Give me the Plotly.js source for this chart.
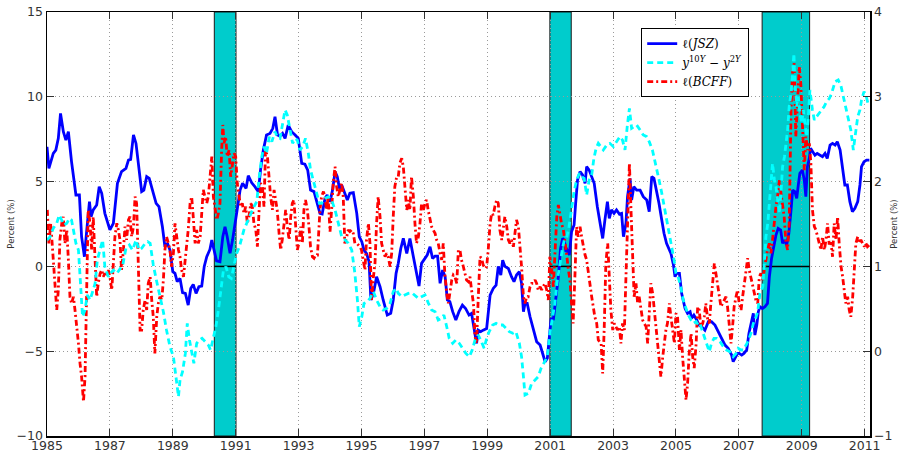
<!DOCTYPE html>
<html><head><meta charset="utf-8">
<script src="https://cdn.plot.ly/plotly-3.0.1.min.js"></script>
<style>html,body{margin:0;padding:0;background:#fff}#chart{width:899px;height:451px}</style>
</head><body><div id="chart"></div>
<script>
const xTickYears = [1985,1987,1989,1991,1993,1995,1997,1999,2001,2003,2005,2007,2009,2011];
const leftTicks = [-10,-5,0,5,10,15];
const rightTicks = [-1,0,1,2,3,4];
const recessionStart = [1990.32, 2000.99, 2007.74];
const recessionEnd = [1991.01, 2001.67, 2009.25];

const jszYears = [
1985.00,1985.06,1985.20,1985.28,1985.36,1985.43,1985.52,1985.60,1985.68,1985.78,
1985.92,1986.03,1986.10,1986.19,1986.26,1986.35,1986.40,1986.47,1986.58,1986.66,
1986.74,1986.84,1987.00,1987.11,1987.24,1987.37,1987.51,1987.59,1987.66,1987.75,
1987.83,1987.93,1988.01,1988.08,1988.17,1988.25,1988.36,1988.47,1988.56,1988.67,
1988.75,1988.83,1988.91,1989.00,1989.07,1989.14,1989.23,1989.31,1989.40,1989.49,
1989.57,1989.65,1989.74,1989.83,1989.92,1990.00,1990.08,1990.18,1990.24,1990.31,
1990.39,1990.50,1990.59,1990.66,1990.73,1990.82,1990.90,1991.03,1991.14,1991.22,
1991.33,1991.40,1991.51,1991.61,1991.72,1991.79,1991.88,1991.98,1992.09,1992.18,
1992.25,1992.33,1992.41,1992.49,1992.57,1992.67,1992.78,1992.89,1992.99,1993.10,
1993.20,1993.29,1993.38,1993.49,1993.57,1993.66,
1993.68,1993.75,1993.84,1993.91,1994.00,1994.08,1994.16,1994.23,1994.30,1994.37,
1994.45,1994.55,1994.63,1994.74,1994.85,1994.93,1995.01,1995.08,1995.16,1995.24,
1995.30,1995.38,1995.48,1995.59,1995.69,1995.82,1995.93,1996.01,1996.10,1996.17,
1996.25,1996.33,1996.44,1996.54,1996.65,1996.73,1996.83,1996.91,1997.02,1997.09,
1997.18,1997.26,1997.34,1997.42,1997.50,1997.58,1997.66,1997.73,1997.81,1997.90,
1998.00,1998.10,1998.21,1998.31,1998.42,1998.50,1998.58,1998.66,1998.71,1998.79,
1998.87,1998.98,1999.09,1999.19,1999.28,1999.35,1999.43,1999.49,1999.56,1999.67,
1999.77,1999.85,1999.93,2000.02,2000.09,2000.15,2000.20,2000.27,2000.36,2000.46,
2000.57,2000.68,2000.76,2000.84,2000.91,2000.97,2001.03,2001.10,2001.18,2001.26,
2001.33,2001.40,2001.45,2001.50,2001.54,2001.61,2001.68,2001.76,2001.81,2001.87,
2001.95,2002.03,2002.11,2002.16,2002.24,2002.33,2002.40,2002.50,
2002.58,2002.67,2002.74,2002.82,2002.88,2002.95,2003.03,2003.11,2003.20,2003.27,
2003.33,2003.41,2003.46,2003.54,2003.59,2003.66,2003.75,2003.86,2003.96,2004.07,
2004.15,2004.23,2004.30,2004.39,2004.46,2004.54,2004.62,2004.70,2004.78,2004.84,
2004.92,2004.97,2005.02,2005.11,2005.18,2005.29,2005.37,2005.45,2005.50,2005.57,
2005.66,2005.73,2005.82,2005.92,2006.03,2006.13,2006.24,2006.35,2006.45,2006.56,
2006.66,2006.77,2006.82,2006.90,2006.96,2007.01,2007.09,2007.16,2007.25,2007.32,
2007.39,2007.46,2007.51,2007.57,2007.62,2007.67,2007.75,2007.83,2007.91,2007.97,
2008.04,2008.12,2008.18,2008.25,2008.33,2008.39,2008.45,2008.52,2008.59,2008.66,
2008.71,2008.78,2008.84,2008.89,2008.94,2009.02,2009.08,2009.13,2009.18,2009.24,
2009.28,2009.35,2009.42,2009.49,2009.58,2009.66,2009.74,2009.81,2009.90,2009.98,
2010.06,2010.13,2010.22,2010.30,2010.37,2010.45,2010.53,2010.61,2010.69,2010.78,
2010.85,2010.90,2010.98,2011.06,2011.15];
const jszValues = [
7.05,5.78,6.66,6.86,7.55,9.02,7.94,7.45,7.94,6.18,
4.21,4.21,1.75,0.57,2.05,3.82,2.93,3.33,3.62,4.70,
4.31,3.13,2.15,2.54,4.90,5.59,5.78,6.27,6.31,7.75,
7.25,5.49,4.41,4.50,5.29,5.19,4.41,3.72,3.52,2.34,
1.16,1.36,0.96,-0.31,-0.41,-0.90,-0.71,-1.55,-1.59,-2.28,
-1.30,-1.06,-1.59,-1.20,-1.16,0.00,0.57,1.00,1.55,1.00,
0.33,0.28,1.75,2.34,1.75,0.77,1.55,3.13,4.50,4.90,
4.60,5.35,4.93,4.70,4.41,5.68,6.86,7.75,7.84,8.14,
8.83,7.75,7.69,7.84,7.55,8.33,7.94,7.75,7.55,6.07,
6.03,5.68,4.50,4.41,3.82,3.33,
3.13,3.09,4.01,4.21,3.82,4.50,5.59,5.29,4.60,4.80,
4.41,3.92,4.31,4.35,3.13,1.75,1.46,0.96,0.77,0.28,
-1.98,-1.59,-0.61,-1.20,-1.98,-2.87,-2.77,-1.98,-0.41,0.18,
1.06,1.65,0.77,1.65,0.57,-0.12,-1.16,0.18,0.47,0.67,
1.16,0.47,0.61,0.61,-1.00,-0.22,-0.61,-1.98,-2.08,-2.67,
-3.16,-2.67,-2.28,-2.48,-2.87,-2.77,-3.66,-4.54,-3.76,-3.85,
-3.76,-3.66,-1.69,-1.30,-1.10,0.00,-0.51,0.37,0.00,-0.12,
-0.61,-0.90,-0.51,-0.31,-1.00,-2.67,-2.18,-2.18,-2.97,-3.76,
-4.44,-4.64,-5.13,-5.62,-5.42,-3.95,-3.06,-3.16,-1.79,-0.61,
1.06,1.65,1.55,0.86,0.96,0.67,2.04,2.44,3.72,5.09,
5.59,5.39,4.90,5.88,5.68,5.19,4.90,3.52,
2.54,1.65,2.73,3.82,2.83,3.33,3.13,3.33,3.09,3.13,
1.75,2.54,4.11,5.19,3.92,4.70,4.50,4.50,4.11,3.92,
3.23,5.29,5.19,4.41,3.72,2.83,1.95,1.36,0.96,0.77,
0.08,-0.61,-0.41,-0.41,-1.59,-2.48,-2.77,-2.67,-3.06,-2.87,
-3.16,-3.46,-3.56,-3.76,-3.26,-3.26,-3.46,-3.85,-4.24,-4.64,
-4.83,-5.23,-5.62,-5.33,-5.13,-5.13,-5.23,-5.13,-4.93,-3.95,
-3.26,-2.77,-4.05,-3.46,-2.67,-2.38,-2.48,-2.38,-2.18,-0.61,
0.47,1.36,1.85,2.24,2.14,1.36,1.55,1.26,1.95,3.33,
4.50,4.41,4.01,4.80,5.49,5.68,5.09,4.11,5.88,6.37,
6.96,6.76,6.56,6.66,6.56,6.47,6.66,6.37,7.15,7.25,
7.15,7.35,6.86,5.88,4.80,4.80,3.82,3.23,3.43,3.82,
4.80,5.88,6.17,6.27,6.27];

const slopeYears = [
1985.00,1985.10,1985.20,1985.31,1985.39,1985.47,1985.54,1985.63,1985.71,1985.78,
1985.84,1985.92,1986.00,1986.05,1986.13,1986.21,1986.28,1986.37,1986.45,1986.53,
1986.60,1986.69,1986.77,1986.84,1986.95,1987.02,1987.11,1987.22,1987.30,1987.41,
1987.51,1987.62,1987.72,1987.83,1987.93,1988.01,1988.12,1988.20,1988.28,1988.38,
1988.49,1988.59,1988.70,1988.80,1988.91,1989.02,1989.10,1989.18,1989.23,1989.31,
1989.40,1989.46,1989.53,1989.60,1989.67,1989.76,1989.84,1989.93,1990.02,1990.13,
1990.20,1990.29,1990.37,1990.45,1990.52,1990.61,1990.69,1990.78,1990.86,1990.95,
1991.03,1991.12,1991.19,1991.26,1991.35,1991.43,1991.51,1991.58,1991.67,1991.75,
1991.83,1991.90,1991.98,1992.07,1992.15,1992.25,1992.32,1992.41,1992.49,1992.57,
1992.64,1992.73,1992.81,1992.89,1992.96,1993.04,1993.13,1993.22,1993.31,1993.38,
1993.47,1993.55,1993.66,
1993.73,1993.84,1993.95,1994.05,1994.16,1994.26,1994.37,1994.48,1994.58,1994.69,
1994.79,1994.87,1994.93,1995.01,1995.08,1995.19,1995.27,1995.38,1995.48,1995.59,
1995.69,1995.80,1995.91,1996.01,1996.10,1996.17,1996.28,1996.38,1996.49,1996.60,
1996.70,1996.81,1996.91,1997.02,1997.13,1997.23,1997.34,1997.44,1997.55,1997.62,
1997.71,1997.79,1997.90,1998.00,1998.11,1998.22,1998.32,1998.43,1998.52,1998.61,
1998.71,1998.79,1998.90,1998.98,1999.06,1999.17,1999.28,1999.38,1999.49,1999.60,
1999.70,1999.81,1999.91,2000.02,2000.09,2000.15,2000.20,2000.31,2000.41,2000.52,
2000.62,2000.71,2000.81,2000.91,2000.99,2001.07,2001.15,2001.23,2001.31,2001.39,
2001.45,2001.52,2001.60,2001.68,2001.76,2001.84,2001.93,2002.00,2002.08,2002.16,
2002.24,2002.32,2002.39,2002.46,2002.53,
2002.69,2002.80,2002.90,2003.01,2003.11,2003.22,2003.30,2003.38,2003.45,2003.52,
2003.59,2003.66,2003.75,2003.86,2003.96,2004.07,2004.15,2004.25,2004.33,2004.44,
2004.54,2004.65,2004.76,2004.84,2004.94,2005.00,2005.07,2005.15,2005.23,2005.32,
2005.39,2005.48,2005.55,2005.64,2005.71,2005.76,2005.85,2005.92,2006.00,2006.06,
2006.13,2006.21,2006.29,2006.40,2006.51,2006.61,2006.72,2006.82,2006.91,2006.98,
2007.06,2007.14,2007.23,2007.31,2007.40,2007.46,2007.53,2007.60,2007.67,2007.76,
2007.81,2007.86,2007.92,2007.97,2008.02,2008.07,2008.13,2008.18,2008.23,2008.29,
2008.34,2008.39,2008.45,2008.50,2008.55,2008.60,2008.66,2008.70,2008.75,2008.79,
2008.84,2008.89,2008.94,2009.00,2009.05,2009.10,2009.16,2009.21,2009.26,2009.34,
2009.40,2009.47,2009.56,2009.63,2009.71,2009.79,2009.88,2009.95,2010.06,2010.16,
2010.24,2010.32,2010.40,2010.48,2010.56,2010.64,2010.71,2010.78,2010.85,2010.90,
2010.98,2011.04,2011.12];
const slopeValues = [
1.311,1.351,1.449,1.508,1.606,1.547,1.488,1.508,1.567,1.547,
1.429,1.272,1.193,0.917,0.407,0.486,0.663,0.604,0.702,0.800,
1.075,1.193,1.311,0.996,0.878,0.917,0.957,0.917,0.957,1.016,
1.213,1.252,1.193,1.311,1.193,1.213,1.272,1.292,1.272,1.016,
0.819,0.663,0.466,0.250,0.053,-0.065,-0.300,-0.537,-0.340,-0.242,
-0.026,0.328,0.132,-0.026,-0.143,0.093,0.132,0.152,0.112,0.073,
0.014,0.152,0.289,0.486,0.721,0.957,0.996,0.878,0.859,1.036,
1.154,1.233,1.351,1.429,1.508,1.567,1.645,1.704,1.763,2.058,
2.294,2.412,2.333,2.530,2.471,2.589,2.530,2.510,2.687,2.844,
2.785,2.608,2.451,2.510,2.490,2.373,2.412,2.510,2.333,2.137,
2.019,1.901,1.744,
1.744,1.802,1.822,1.783,1.665,1.508,1.351,1.311,1.272,1.193,
0.917,0.604,0.289,0.407,0.564,0.584,0.623,0.702,0.604,0.525,
0.486,0.505,0.564,0.702,0.741,0.682,0.643,0.663,0.682,0.690,
0.663,0.623,0.643,0.663,0.564,0.486,0.466,0.368,0.387,0.427,
0.289,0.152,0.093,0.132,0.093,0.034,-0.026,-0.065,0.014,0.132,
0.191,0.132,0.034,0.152,0.230,0.309,0.328,0.309,0.309,0.270,
0.230,0.211,0.230,0.093,-0.065,-0.300,-0.517,-0.497,-0.379,-0.340,
-0.300,-0.202,-0.124,-0.065,0.211,0.387,0.564,0.839,1.036,1.213,
1.311,1.331,1.468,1.704,1.881,2.019,2.097,2.058,2.038,1.842,
2.019,2.077,2.274,2.392,2.451,
2.373,2.432,2.451,2.412,2.471,2.530,2.490,2.373,2.648,2.864,
2.628,2.648,2.667,2.608,2.550,2.530,2.471,2.373,2.255,2.058,
1.881,1.665,1.468,1.272,1.075,0.917,0.878,0.761,0.604,0.505,
0.427,0.368,0.328,0.348,0.309,0.328,0.230,0.152,0.073,-0.006,
0.093,0.152,0.152,0.112,0.053,0.014,-0.006,-0.065,-0.026,0.034,
0.014,0.014,0.073,0.132,0.230,0.328,0.387,0.466,0.682,0.761,
1.036,1.351,1.508,1.704,1.979,2.215,2.019,1.940,1.822,1.626,
1.881,2.176,2.294,2.451,2.608,2.884,3.041,3.237,3.512,3.119,
2.884,3.001,2.805,2.687,2.844,2.687,2.530,2.766,3.080,2.844,
2.726,2.766,2.805,2.844,2.884,2.942,2.982,3.041,3.178,3.198,
3.139,3.001,2.884,2.766,2.608,2.373,2.589,2.766,2.844,2.962,
3.060,3.021,2.903];

const bcffYears = [
1985.01,1985.06,1985.12,1985.18,1985.24,1985.31,1985.36,1985.41,1985.47,1985.52,
1985.57,1985.63,1985.68,1985.73,1985.78,1985.84,1985.89,1985.94,1986.00,1986.05,
1986.10,1986.16,1986.21,1986.26,1986.31,1986.37,1986.42,1986.47,1986.53,1986.58,
1986.63,1986.69,1986.74,1986.79,1986.84,1986.90,1986.95,1987.00,1987.06,1987.11,
1987.16,1987.22,1987.27,1987.32,1987.37,1987.43,1987.48,1987.53,1987.59,1987.64,
1987.69,1987.75,1987.80,1987.85,1987.88,1987.93,1987.96,1988.01,1988.06,1988.12,
1988.17,1988.22,1988.28,1988.33,1988.38,1988.43,1988.49,1988.54,1988.59,1988.65,
1988.70,1988.75,1988.80,1988.86,1988.91,1988.96,1989.02,1989.07,1989.12,1989.18,
1989.23,1989.28,1989.34,1989.39,1989.44,1989.49,1989.55,1989.60,1989.65,1989.71,
1989.76,1989.81,1989.87,1989.92,1989.97,1990.02,1990.08,1990.13,1990.18,1990.24,
1990.29,1990.34,1990.40,1990.45,1990.50,1990.55,1990.59,1990.63,1990.68,1990.73,
1990.79,1990.84,1990.89,1990.95,1991.00,1991.05,1991.11,1991.16,1991.21,1991.26,
1991.32,1991.37,1991.42,1991.48,1991.53,1991.58,1991.64,1991.69,1991.74,1991.79,
1991.85,1991.90,1991.95,1992.01,1992.06,1992.11,1992.17,1992.22,1992.27,1992.32,
1992.38,1992.43,1992.48,1992.54,1992.59,1992.64,1992.70,1992.75,1992.80,1992.85,
1992.91,1992.96,1993.01,1993.07,1993.12,1993.17,1993.22,1993.28,1993.33,1993.38,
1993.44,1993.49,1993.54,1993.60,1993.65,
1993.68,1993.73,1993.79,1993.84,1993.89,1993.94,1994.00,1994.05,1994.10,1994.16,
1994.21,1994.26,1994.32,1994.37,1994.42,1994.47,1994.53,1994.58,1994.63,1994.69,
1994.74,1994.79,1994.85,1994.90,1994.95,1995.00,1995.06,1995.11,1995.16,1995.22,
1995.27,1995.32,1995.38,1995.43,1995.48,1995.53,1995.59,1995.64,1995.69,1995.75,
1995.80,1995.85,1995.91,1995.96,1996.01,1996.06,1996.12,1996.17,1996.22,1996.28,
1996.33,1996.38,1996.44,1996.49,1996.54,1996.59,1996.65,1996.70,1996.75,1996.81,
1996.86,1996.91,1996.97,1997.02,1997.07,1997.12,1997.18,1997.23,1997.28,1997.34,
1997.39,1997.44,1997.50,1997.55,1997.60,1997.65,1997.71,1997.76,1997.81,1997.87,
1997.92,1997.97,1998.03,1998.08,1998.13,1998.18,1998.24,1998.29,1998.34,1998.40,
1998.45,1998.50,1998.56,1998.61,1998.66,1998.71,1998.77,1998.82,1998.87,1998.93,
1998.98,1999.03,1999.09,1999.14,1999.19,1999.24,1999.30,1999.35,1999.40,1999.46,
1999.51,1999.56,1999.62,1999.67,1999.72,1999.77,1999.83,1999.88,1999.93,1999.99,
2000.04,2000.09,2000.15,2000.20,2000.25,2000.30,2000.36,2000.41,2000.46,2000.52,
2000.57,2000.62,2000.68,2000.73,2000.78,2000.83,2000.89,2000.94,2000.99,2001.05,
2001.10,2001.15,2001.21,2001.26,2001.31,2001.36,2001.42,2001.47,2001.52,2001.58,
2001.63,2001.68,2001.73,2001.79,2001.84,2001.89,2001.95,2002.00,2002.05,2002.11,
2002.16,2002.21,2002.26,2002.32,2002.37,2002.42,2002.48,2002.53,
2002.62,2002.67,2002.72,2002.77,2002.83,2002.88,2002.93,2002.99,2003.04,2003.09,
2003.14,2003.20,2003.25,2003.30,2003.36,2003.41,2003.46,2003.52,2003.57,2003.62,
2003.67,2003.73,2003.78,2003.83,2003.89,2003.94,2003.99,2004.05,2004.10,2004.15,
2004.20,2004.26,2004.31,2004.36,2004.42,2004.47,2004.52,2004.58,2004.63,2004.68,
2004.73,2004.79,2004.84,2004.89,2004.95,2005.00,2005.05,2005.11,2005.16,2005.21,
2005.26,2005.32,2005.37,2005.42,2005.48,2005.53,2005.58,2005.64,2005.69,2005.74,
2005.79,2005.85,2005.90,2005.95,2006.01,2006.06,2006.11,2006.17,2006.22,2006.27,
2006.32,2006.38,2006.43,2006.48,2006.54,2006.59,2006.64,2006.70,2006.75,2006.80,
2006.85,2006.91,2006.96,2007.01,2007.07,2007.12,2007.17,2007.23,2007.28,2007.33,
2007.38,2007.44,2007.49,2007.54,2007.60,2007.65,2007.70,2007.76,2007.81,2007.86,
2007.91,2007.97,2008.02,2008.07,2008.13,2008.18,2008.23,2008.29,2008.34,2008.39,
2008.44,2008.50,2008.55,2008.60,2008.66,2008.71,2008.76,2008.81,2008.87,2008.92,
2008.97,2009.03,2009.08,2009.13,2009.19,2009.24,2009.29,2009.34,2009.40,2009.45,
2009.50,2009.56,2009.61,2009.66,2009.72,2009.77,2009.82,2009.87,2009.93,2009.98,
2010.03,2010.09,2010.14,2010.19,2010.25,2010.30,2010.35,2010.40,2010.46,2010.51,
2010.56,2010.62,2010.67,2010.72,2010.78,2010.83,2010.88,2010.93,2010.99,2011.04,
2011.09,2011.15];
const bcffValues = [
3.33,1.36,2.54,0.97,-0.61,-2.57,-1.39,1.56,2.54,2.93,
1.36,2.15,0.38,-1.79,-2.18,-1.79,-2.57,-3.36,-4.54,-5.72,
-6.50,-7.98,-6.50,-1.59,3.33,2.54,0.97,2.93,-0.21,-1.79,
-1.00,-0.41,-0.21,-0.61,-0.41,-0.61,-0.21,-0.61,-1.39,-0.02,
1.75,2.54,2.15,1.56,-0.21,0.97,2.34,1.56,2.74,2.93,
1.75,2.34,4.11,3.72,1.36,-1.20,-3.75,-3.75,-2.57,-1.98,
-2.57,-1.00,-0.61,-1.98,-2.97,-5.13,-2.97,-2.18,-1.79,-1.98,
-0.80,0.97,1.75,1.36,0.97,-0.02,0.77,2.54,1.75,0.97,
0.57,-0.21,-0.61,0.38,0.97,2.15,3.72,4.11,2.93,1.36,
2.15,1.36,1.75,2.93,4.51,4.11,3.72,4.11,5.29,6.47,
4.11,3.33,2.74,3.13,3.72,6.67,8.34,7.26,7.65,6.47,
6.86,5.29,6.08,6.67,6.47,4.90,4.11,3.52,3.72,3.13,
3.52,2.54,2.93,3.72,3.52,2.54,2.15,1.16,3.13,4.90,
4.70,3.52,6.86,6.47,5.29,4.11,3.33,4.51,3.92,3.33,
1.95,0.97,1.56,2.54,3.33,2.34,1.56,2.93,3.72,3.92,
2.15,0.97,1.36,2.34,1.36,3.33,3.92,3.33,2.34,1.16,
0.57,0.48,0.67,0.67,2.34,
3.33,4.11,4.41,4.11,3.33,4.11,2.05,3.33,4.90,5.88,
4.70,4.11,4.51,4.90,4.11,1.36,1.75,2.15,2.05,2.15,
1.95,1.36,1.36,1.26,1.16,0.97,0.18,-0.21,1.56,2.54,
1.36,-1.98,-0.61,0.18,2.54,4.11,2.93,1.36,0.97,0.57,
0.77,0.57,-0.02,0.77,2.93,4.70,5.29,5.29,6.08,6.37,
5.88,4.51,3.33,3.92,3.33,5.29,4.11,2.54,1.36,1.75,
2.54,3.72,3.33,3.72,3.92,3.33,2.74,2.34,2.15,1.95,
1.56,1.36,0.77,0.38,1.36,-0.41,-1.59,-2.18,-1.59,-0.80,
-0.51,-0.61,-1.00,0.97,0.97,0.38,-0.02,-0.41,-0.80,-0.90,
-0.61,-1.39,-2.18,-4.14,-4.54,-1.98,0.57,0.48,0.08,-0.12,
-0.02,0.97,2.54,3.13,3.03,3.52,3.92,3.72,2.15,1.56,
2.34,2.93,2.34,1.56,1.36,1.56,1.16,2.15,2.74,2.34,
1.36,-0.02,-1.79,-2.18,-1.79,-1.79,-1.20,-1.00,-1.00,-0.80,
-1.00,-1.39,-1.20,-1.39,-1.20,-1.00,-1.39,-1.98,0.57,-0.21,
-1.20,0.97,2.93,3.62,2.93,2.54,2.15,1.56,0.77,-0.21,
-0.80,-2.18,-3.36,-0.41,2.34,1.75,2.34,1.75,1.16,0.67,
0.38,-0.41,-1.20,-1.79,-2.38,-2.97,-3.36,-4.34,
-4.54,-6.31,-3.55,0.18,1.36,-0.61,-2.57,-3.75,-3.36,-3.55,
-3.75,-3.55,-4.54,-3.36,-3.75,-0.61,2.93,6.08,3.33,0.18,
-1.79,-1.00,-2.18,-1.79,-2.57,-3.16,-3.36,-3.55,-4.54,-2.97,
-1.00,-1.59,-2.57,-3.55,-4.54,-5.52,-6.50,-5.32,-4.54,-3.75,
-3.36,-2.18,-2.97,-3.75,-4.54,-2.77,-2.97,-4.93,-3.75,-5.32,
-6.50,-7.88,-6.90,-5.13,-3.95,-5.30,-6.00,-4.60,-2.38,-2.57,
-3.55,-3.36,-2.97,-2.18,-3.16,-3.36,-2.18,-0.80,0.18,-0.41,
-1.00,-1.79,-2.38,-2.18,-1.98,-1.79,-2.38,-3.55,-4.54,-3.55,
-2.38,-1.79,-1.39,-2.18,-2.57,-1.79,-1.00,-0.41,0.48,-0.21,
-0.61,-1.00,-1.39,-1.98,-2.18,-0.61,-0.41,-0.80,-0.21,0.38,
0.97,1.36,0.77,1.56,2.74,3.52,4.11,5.09,4.31,3.52,
2.93,1.36,0.97,2.54,9.22,11.58,11.97,7.65,9.61,11.77,
10.79,7.26,5.68,7.65,6.86,7.26,6.08,3.33,2.34,2.15,
1.75,1.36,0.97,1.75,0.97,1.56,2.54,1.36,1.36,0.57,
2.54,1.56,2.93,1.36,-0.02,-0.61,-1.39,-2.18,-1.79,-2.57,
-2.97,-1.79,-0.21,1.36,1.75,1.36,1.56,1.36,1.16,1.36,
1.16,1.26];

const shapes = [];
recessionStart.forEach((s, i) => {
  shapes.push({type:'rect', xref:'x', yref:'paper', x0:s, x1:recessionEnd[i], y0:0, y1:1,
    fillcolor:'#00cccc', line:{color:'#1a1a1a', width:1}, layer:'between'});
  shapes.push({type:'line', xref:'x', yref:'y', x0:s, x1:recessionEnd[i], y0:0, y1:0,
    line:{color:'#000', width:1.5}, layer:'between'});
});

const traces = [
  {x:jszYears, y:jszValues, type:'scatter', mode:'lines', name:'ℓ(<i>JSZ</i>)', legendrank:1,
   line:{color:'#0000ff', width:2.8}},
  {x:bcffYears, y:bcffValues, type:'scatter', mode:'lines', name:'ℓ(<i>BCFF</i>)', legendrank:3,
   line:{color:'#ff0000', width:2.8, dash:'6px,3px,2px,3px'}},
  {x:slopeYears, y:slopeValues, type:'scatter', mode:'lines', yaxis:'y2', legendrank:2,
   name:'<i>y</i><sup>10<i>Y</i></sup> − <i>y</i><sup>2<i>Y</i></sup>',
   line:{color:'#00ffff', width:2.8, dash:'6px,4px'}}
];

const axisCommon = {ticks:'inside', ticklen:7, tickwidth:1, tickcolor:'#333', showline:true,
  linecolor:'#000', linewidth:1.5, zeroline:false, tickfont:{family:'DejaVu Sans', size:12.5, color:'#333'}};

const layout = {
  width:899, height:451,
  margin:{l:47, r:29, t:12, b:15},
  paper_bgcolor:'#fff', plot_bgcolor:'#fff',
  font:{family:'DejaVu Sans', size:12, color:'#333'},
  showlegend:true,
  legend:{x:0.722, y:0.962, xanchor:'left', yanchor:'top', bgcolor:'#fff', bordercolor:'#000',
    borderwidth:1, font:{family:'DejaVu Serif', size:12, color:'#000'}, tracegroupgap:0, itemwidth:30},
  xaxis:Object.assign({}, axisCommon, {range:[1985, 2011.17], tickmode:'array', tickvals:xTickYears,
    ticktext:xTickYears.map(String), mirror:'ticks', ticklabelstandoff:-3, showgrid:true, gridcolor:'#9a9a9a', griddash:'1px,3px', gridwidth:1}),
  yaxis:Object.assign({}, axisCommon, {range:[-10,15], tickmode:'array', tickvals:leftTicks,
    showgrid:true, gridcolor:'#9a9a9a', griddash:'1px,3px', gridwidth:1,
    title:{text:'Percent (%)', font:{family:'DejaVu Sans', size:8.5, color:'#333'}, standoff:0}}),
  yaxis2:Object.assign({}, axisCommon, {overlaying:'y', side:'right', range:[-1,4], tickmode:'array',
    tickvals:rightTicks, showgrid:false,
    title:{text:'Percent (%)', font:{family:'DejaVu Sans', size:8.5, color:'#333'}, standoff:12}}),
  shapes:shapes
};

Plotly.newPlot('chart', traces, layout, {displayModeBar:false, staticPlot:true});
</script>
</body></html>
